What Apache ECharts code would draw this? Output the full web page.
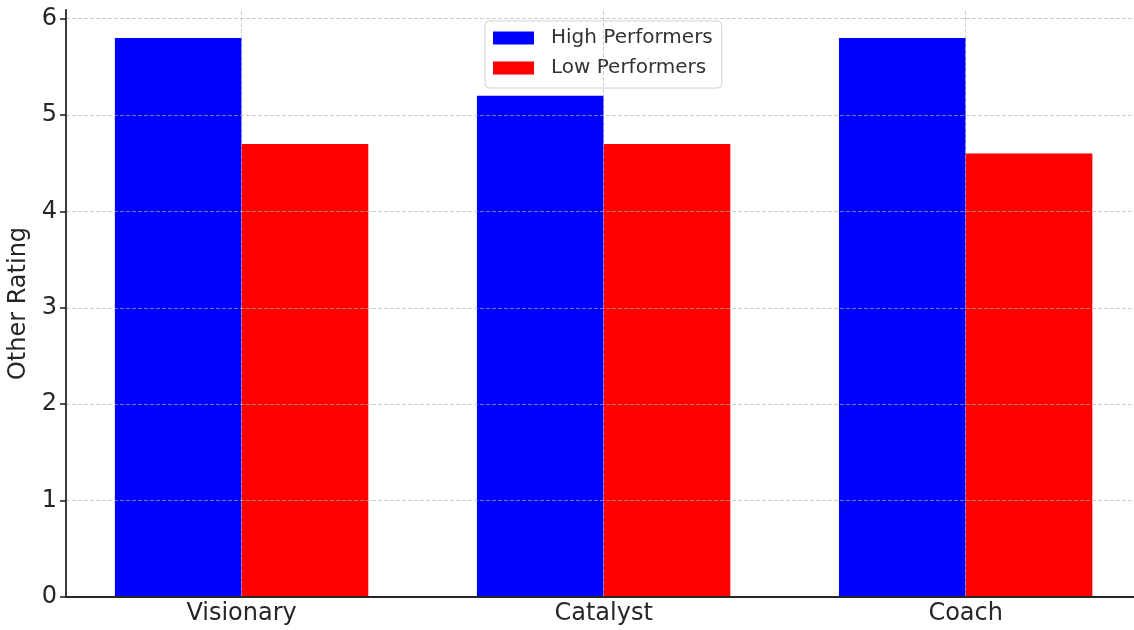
<!DOCTYPE html>
<html>
<head>
<meta charset="utf-8">
<script src="https://cdn.jsdelivr.net/npm/echarts@6/dist/echarts.min.js"></script>
<style>html,body{margin:0;padding:0;background:#fff}#c{width:1134px;height:630px}</style>
</head>
<body>
<div id="c"></div>
<script>
const categories = ['Visionary', 'Catalyst', 'Coach'];
const highPerformers = [5.8, 5.2, 5.8];
const lowPerformers = [4.7, 4.7, 4.6];
const yTicks = [0, 1, 2, 3, 4, 5, 6];
const seriesNames = ['High Performers', 'Low Performers'];

const FONT = 'DejaVu Sans';
const DARK = '#262626';
const GRID = 'rgba(176,176,176,0.65)';
const xIdx = categories.map((c, i) => i);

const gridLineStyle = { color: GRID, width: 1, type: [4, 2] };

const chart = echarts.init(document.getElementById('c'));
chart.setOption({
  animation: false,
  backgroundColor: '#fff',
  grid: { left: 66, top: 10, bottom: 33, right: 0, outerBoundsMode: 'none', containLabel: false },
  legend: {
    orient: 'vertical', left: 485, top: 21,
    data: seriesNames,
    icon: 'rect', itemWidth: 41, itemHeight: 13, itemGap: 10,
    padding: [7, 9, 10, 8],
    backgroundColor: 'rgba(255,255,255,0.8)',
    borderColor: '#d0d0d0', borderWidth: 1, borderRadius: 4,
    textStyle: { fontFamily: FONT, fontSize: 20, color: '#333', lineHeight: 20, padding: [0, 0, 0, 12] }
  },
  xAxis: {
    type: 'value', min: -0.485, max: 2.465, z: 10,
    axisLine: { show: true, onZero: false, lineStyle: { color: DARK, width: 1.8 } },
    axisTick: { show: false },
    axisLabel: {
      customValues: xIdx,
      formatter: v => categories[Math.round(v)],
      fontFamily: FONT, fontSize: 24, color: DARK, margin: 5
    },
    splitLine: { show: false }
  },
  yAxis: {
    type: 'value', min: 0, max: 6.09, interval: 1, z: 10,
    name: 'Other Rating', nameLocation: 'middle', nameGap: 28,
    nameTextStyle: { fontFamily: FONT, fontSize: 24, color: DARK },
    axisLine: { show: true, onZero: false, lineStyle: { color: DARK, width: 1.8 } },
    axisTick: { show: true, length: 6, customValues: yTicks, lineStyle: { color: DARK, width: 1.6 } },
    axisLabel: { customValues: yTicks, fontFamily: FONT, fontSize: 24, color: DARK, margin: 9 },
    splitLine: { show: false }
  },
  series: [
    {
      name: seriesNames[0], type: 'bar', barWidth: '35%', barGap: '0%',
      itemStyle: { color: '#0000ff' },
      data: highPerformers.map((v, i) => [xIdx[i], v])
    },
    {
      name: seriesNames[1], type: 'bar', barWidth: '35%', barGap: '0%',
      itemStyle: { color: '#ff0000' },
      data: lowPerformers.map((v, i) => [xIdx[i], v])
    },
    {
      name: 'grid', type: 'line', data: [], z: 3, silent: true,
      markLine: {
        silent: true, symbol: 'none', label: { show: false },
        lineStyle: gridLineStyle, emphasis: { disabled: true },
        data: yTicks.slice(1).map(v => ({ yAxis: v }))
          .concat(xIdx.map(v => ({ xAxis: v })))
      }
    }
  ]
});
</script>
</body>
</html>
